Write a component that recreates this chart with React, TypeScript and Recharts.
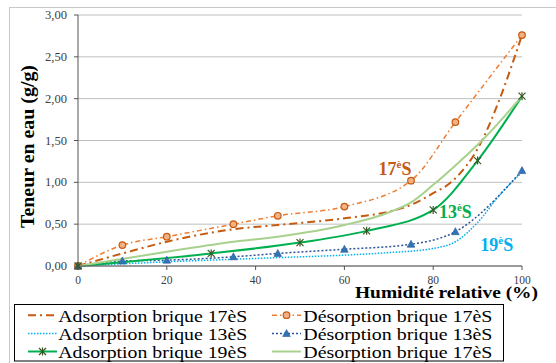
import { LineChart, Line, XAxis, YAxis, CartesianGrid, ReferenceDot, Label } from "recharts";

// relative humidity (%) and water content (g/g) per series
const hrAds17 = [0, 10, 20, 35, 45, 60, 70, 75, 80, 84, 91, 95, 100];
const wAds17 = [0, 0.15, 0.29, 0.44, 0.49, 0.57, 0.65, 0.73, 0.87, 1.0, 1.5, 2.0, 2.76];

const hrDes17 = [0, 10, 20, 35, 45, 60, 75, 85, 100];
const wDes17 = [0, 0.25, 0.35, 0.5, 0.6, 0.71, 1.02, 1.72, 2.76];

const hrAds13 = [0, 20, 35, 45, 60, 70, 80, 85, 90, 95, 100];
const wAds13 = [0, 0.05, 0.08, 0.1, 0.13, 0.16, 0.21, 0.29, 0.52, 0.85, 1.12];

const hrDes13 = [0, 10, 20, 35, 45, 60, 75, 85, 100];
const wDes13 = [0, 0.06, 0.07, 0.11, 0.15, 0.2, 0.26, 0.41, 1.14];

const hrAds19 = [0, 30, 50, 65, 80, 90, 100];
const wAds19 = [0, 0.15, 0.28, 0.42, 0.67, 1.26, 2.03];

const hrDes17b = [0, 20, 35, 45, 60, 70, 75, 80, 86, 91, 100];
const wDes17b = [0, 0.17, 0.29, 0.35, 0.49, 0.64, 0.76, 0.97, 1.25, 1.5, 2.03];

const xTicks = [0, 20, 40, 60, 80, 100];
const yTicks = [0, 0.5, 1, 1.5, 2, 2.5, 3];

const FONT = "Liberation Serif";

const pts = (hr: number[], w: number[]) => hr.map((x, i) => ({ hr: x, w: w[i] }));

const CircleDot = (p: any) =>
  p.cx == null ? null : (
    <circle key={`c${p.index}`} cx={p.cx} cy={p.cy} r={3.3} fill="#F4B183" stroke="#C55A11" strokeWidth={1.2} />
  );

const TriangleDot = (p: any) =>
  p.cx == null ? null : (
    <polygon
      key={`t${p.index}`}
      points={`${p.cx},${p.cy - 4} ${p.cx - 3.8},${p.cy + 3} ${p.cx + 3.8},${p.cy + 3}`}
      fill="#2E75B6"
      stroke="#2F5597"
      strokeWidth={0.6}
    />
  );

const StarDot = (p: any) =>
  p.cx == null ? null : (
    <g key={`s${p.index}`} stroke="#385723" strokeWidth={1.2}>
      <line x1={p.cx - 3.5} y1={p.cy - 3.5} x2={p.cx + 3.5} y2={p.cy + 3.5} />
      <line x1={p.cx - 3.5} y1={p.cy + 3.5} x2={p.cx + 3.5} y2={p.cy - 3.5} />
      <line x1={p.cx} y1={p.cy - 4} x2={p.cx} y2={p.cy + 4} />
    </g>
  );

const series = [
  { name: "Adsorption brique 17èS", data: pts(hrAds17, wAds17), stroke: "#C55A11", width: 2, dash: "8 4 2 4", dot: null },
  { name: "Désorption brique 17èS", data: pts(hrDes17, wDes17), stroke: "#ED7D31", width: 1.5, dash: "5 3 1.5 3", dot: CircleDot },
  { name: "Adsorption brique 13èS", data: pts(hrAds13, wAds13), stroke: "#00B0F0", width: 1.5, dash: "1.5 1.5", dot: null },
  { name: "Désorption brique 13èS", data: pts(hrDes13, wDes13), stroke: "#2F5597", width: 1.5, dash: "2 2", dot: TriangleDot },
  { name: "Adsorption brique 19èS", data: pts(hrAds19, wAds19), stroke: "#00B050", width: 2, dash: undefined, dot: StarDot },
  { name: "Désorption brique 17èS", data: pts(hrDes17b, wDes17b), stroke: "#A9D18E", width: 2, dash: undefined, dot: null },
];

const fmt = (v: number) => v.toFixed(2).replace(".", ",");

const XTick = (p: any) => (
  <text x={p.x} y={p.y + 7.5} textAnchor="middle" fill="#404040" style={{ fontFamily: FONT, fontSize: 11.5 }}>
    {p.payload.value}
  </text>
);

const YTick = (p: any) => (
  <text x={p.x} y={p.y + 4} textAnchor="end" fill="#404040" style={{ fontFamily: FONT, fontSize: 12 }}
    textLength={22} lengthAdjust="spacingAndGlyphs">
    {fmt(p.payload.value)}
  </text>
);

const Tag = ({ cx, cy, num, color }: { cx: number; cy: number; num: string; color: string }) => (
  <text x={cx} y={cy} fill={color} style={{ fontFamily: FONT, fontWeight: "bold", fontSize: 18 }}>
    {num}
    <tspan style={{ fontSize: 11 }} dy={-7}>è</tspan>
    <tspan style={{ fontSize: 18 }} dy={7}>S</tspan>
  </text>
);

function LegendBox() {
  const rows = [17.7, 36, 54];
  const cols = [
    { sw: 14, tx: 44.3 },
    { sw: 258, tx: 289.3 },
  ];
  return (
    <svg width={490} height={58} style={{ position: "absolute", left: 14, top: 304 }}>
      <rect x={0.5} y={0.5} width={489} height={56.5} fill="#fff" stroke="#000" strokeWidth={1} />
      {series.map((s, i) => {
        const c = cols[i % 2];
        const y = rows[Math.floor(i / 2)];
        const my = y - 6.5;
        const Dot = s.dot as any;
        return (
          <g key={i}>
            <line x1={c.sw} y1={my} x2={c.sw + 29} y2={my} stroke={s.stroke} strokeWidth={s.width} strokeDasharray={s.dash} />
            {Dot && <Dot cx={c.sw + 14.5} cy={my} index={i} />}
            <text x={c.tx} y={y} fill="#000" style={{ fontFamily: FONT, fontSize: 16.5 }}
              textLength={189} lengthAdjust="spacingAndGlyphs">
              {s.name}
            </text>
          </g>
        );
      })}
    </svg>
  );
}

export default function App() {
  return (
    <div style={{ position: "absolute", left: 0, top: 0, width: 556, height: 363, background: "#fff", overflow: "hidden" }}>
      <div style={{ position: "absolute", left: 9, top: 7, width: 600, height: 400, border: "1px solid #C8C8C8" }} />
      <div style={{ position: "absolute", left: 0, top: 0 }}>
        <LineChart width={556} height={363} margin={{ top: 15, right: 34, bottom: 0, left: 0 }}>
          <CartesianGrid vertical={false} stroke="#BFBFBF" />
          <XAxis
            type="number"
            dataKey="hr"
            domain={[0, 100]}
            ticks={xTicks}
            interval={0}
            height={97}
            tickSize={4}
            tickMargin={6}
            stroke="#555"
            tick={XTick}
          >
            <Label
              content={(p: any) => {
                const vb = p.viewBox;
                return (
                  <text
                    x={vb.x + vb.width + 16}
                    y={vb.y + 32}
                    textAnchor="end"
                    fill="#000"
                    style={{ fontFamily: FONT, fontWeight: "bold", fontSize: 17 }}
                    textLength={183}
                    lengthAdjust="spacingAndGlyphs"
                  >
                    Humidité relative (%)
                  </text>
                );
              }}
            />
          </XAxis>
          <YAxis
            type="number"
            dataKey="w"
            domain={[0, 3]}
            ticks={yTicks}
            interval={0}
            width={78}
            tickSize={4}
            tickMargin={7}
            stroke="#555"
            tick={YTick}
          >
            <Label
              content={(p: any) => {
                const vb = p.viewBox;
                const cy = vb.y + vb.height / 2 + 6;
                return (
                  <text
                    x={33.5}
                    y={cy}
                    transform={`rotate(-90, 33.5, ${cy})`}
                    textAnchor="middle"
                    fill="#000"
                    style={{ fontFamily: FONT, fontWeight: "bold", fontSize: 18 }}
                    textLength={163}
                    lengthAdjust="spacingAndGlyphs"
                  >
                    Teneur en eau (g/g)
                  </text>
                );
              }}
            />
          </YAxis>
          {series.map((s, i) => (
            <Line
              key={i}
              data={s.data}
              dataKey="w"
              name={s.name}
              type="monotone"
              stroke={s.stroke}
              strokeWidth={s.width}
              strokeDasharray={s.dash}
              dot={s.dot ? (s.dot as any) : false}
              activeDot={false}
              isAnimationActive={false}
            />
          ))}
          <ReferenceDot x={67.7} y={1.09} r={0} ifOverflow="visible"
            shape={(p: any) => <Tag cx={p.cx} cy={p.cy} num="17" color="#C55A11" />} />
          <ReferenceDot x={81.3} y={0.57} r={0} ifOverflow="visible"
            shape={(p: any) => <Tag cx={p.cx} cy={p.cy} num="13" color="#00B050" />} />
          <ReferenceDot x={90.6} y={0.18} r={0} ifOverflow="visible"
            shape={(p: any) => <Tag cx={p.cx} cy={p.cy} num="19" color="#00B0F0" />} />
        </LineChart>
      </div>
      <LegendBox />
    </div>
  );
}
